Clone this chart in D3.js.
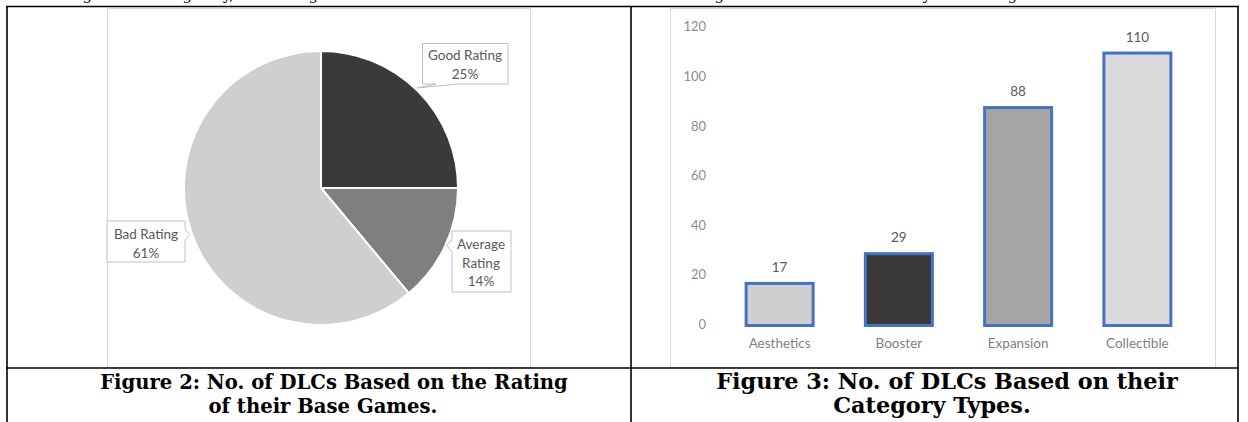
<!DOCTYPE html>
<html>
<head>
<meta charset="utf-8">
<script src="https://cdn.jsdelivr.net/npm/d3@7"></script>
<style>
  body { margin: 0; background: #fff; }
  svg { display: block; }
</style>
</head>
<body>
<svg id="svg" width="1248" height="422"></svg>
<script>
// pie: counts of DLCs by rating of base game (total 244)
var ratingNames = ["Good Rating", "Average Rating", "Bad Rating"];
var ratingCounts = [61, 34, 149];
var ratingColors = ["#3b3a39", "#7f7f7f", "#d0cece"];

// bars: counts of DLCs by category
var categories = ["Aesthetics", "Booster", "Expansion", "Collectible"];
var categoryCounts = [17, 29, 88, 110];
var categoryColors = ["#d0cece", "#3a3838", "#a5a5a5", "#dbdbdb"];
var yTicks = [0, 20, 40, 60, 80, 100, 120];

var caption2 = ["Figure 2: No. of DLCs Based on the Rating", "of their Base Games."];
var caption3 = ["Figure 3: No. of DLCs Based on their", "Category Types."];

// tail of the paragraph above the table (only the descenders show)
var topWords = [
  {t: "having", x: 92}, {t: "rating", x: 192}, {t: "by,", x: 234}, {t: "being", x: 318},
  {t: "rating", x: 724}, {t: "by", x: 931}, {t: "big", x: 1017}
];

var svg = d3.select("#svg");
var labelFont = "Lato, 'Open Sans', sans-serif";

// ---- paragraph remains ----
svg.append("g").selectAll("text").data(topWords).enter().append("text")
  .attr("x", function(d){ return d.x; })
  .attr("y", 0)
  .attr("text-anchor", "end")
  .style("font-family", "'DejaVu Serif', serif")
  .style("font-size", "15px")
  .attr("fill", "#000")
  .text(function(d){ return d.t; });

// ---- chart frames ----
svg.append("rect").attr("x", 107.5).attr("y", 8.5).attr("width", 423).attr("height", 359)
  .attr("fill", "#fff").attr("stroke", "#d9d9d9");
svg.append("rect").attr("x", 670.5).attr("y", 8.5).attr("width", 545).attr("height", 359)
  .attr("fill", "#fff").attr("stroke", "#d9d9d9");

// ---- pie ----
var total = d3.sum(ratingCounts);
var pct = d3.format(".0%");
var pieData = d3.pie().sort(null)(ratingCounts);
var arc = d3.arc().innerRadius(0).outerRadius(137);
var pieG = svg.append("g").attr("transform", "translate(321,188)");
pieG.selectAll("path").data(pieData).enter().append("path")
  .attr("d", arc)
  .attr("fill", function(d, i){ return ratingColors[i]; })
  .attr("stroke", "#fff")
  .attr("stroke-width", 2)
  .attr("stroke-linejoin", "round");

// callout boxes (shape drawn around each data label)
var callouts = [
  {name: ratingNames[0], lines: ["Good Rating"], cx: 465, y0: 55,
   path: "M422.5,43.5H508V84H458L417,88L436,84H422.5Z"},
  {name: ratingNames[1], lines: ["Average", "Rating"], cx: 481, y0: 244,
   path: "M452,231H511V292H452V252L446.5,245L452,240Z"},
  {name: ratingNames[2], lines: ["Bad Rating"], cx: 146, y0: 234,
   path: "M107,221H185V229L189.5,234.5L185,240V262H107Z"}
];
var cg = svg.append("g").selectAll("g").data(callouts).enter().append("g");
cg.append("path").attr("d", function(d){ return d.path; })
  .attr("fill", "#fff").attr("stroke", "#bfbfbf").attr("stroke-width", 1);
cg.each(function(d, i){
  var g = d3.select(this);
  var lines = d.lines.concat([pct(ratingCounts[i] / total)]);
  lines.forEach(function(l, k){
    g.append("text")
      .attr("x", d.cx).attr("y", d.y0 + k * 18.5)
      .attr("text-anchor", "middle").attr("dominant-baseline", "central")
      .style("font-family", labelFont).style("font-size", "13.5px")
      .attr("fill", "#595959").text(l);
  });
});

// ---- bars ----
var x = d3.scaleBand().domain(categories).range([720, 1197]).paddingInner(0.413).paddingOuter(0.2065);
var y = d3.scaleLinear().domain([0, 120]).range([324, 26.8]);

var yAxis = svg.append("g").attr("transform", "translate(706,0)")
  .call(d3.axisLeft(y).tickValues(yTicks).tickSize(0).tickPadding(0));
yAxis.select(".domain").remove();
yAxis.selectAll("text").style("font-family", labelFont).style("font-size", "13px")
  .attr("fill", "#8c8c8c");

var xAxis = svg.append("g").attr("transform", "translate(0,338)")
  .call(d3.axisBottom(x).tickSize(0).tickPadding(0));
xAxis.select(".domain").remove();
xAxis.selectAll("text").style("font-family", labelFont).style("font-size", "13.5px")
  .attr("fill", "#7f7f7f");

var bars = svg.append("g").selectAll("g").data(categories).enter().append("g");
bars.append("rect")
  .attr("x", function(d){ return x(d) + 1.5; })
  .attr("y", function(d, i){ return y(categoryCounts[i]) + 1.5; })
  .attr("width", x.bandwidth() - 3)
  .attr("height", function(d, i){ return y(0) - y(categoryCounts[i]); })
  .attr("fill", function(d, i){ return categoryColors[i]; })
  .attr("stroke", "#4472c4").attr("stroke-width", 3);
bars.append("text")
  .attr("x", function(d){ return x(d) + x.bandwidth() / 2; })
  .attr("y", function(d, i){ return y(categoryCounts[i]) - 15; })
  .attr("text-anchor", "middle").attr("dominant-baseline", "central")
  .style("font-family", labelFont).style("font-size", "13.5px")
  .attr("fill", "#595959")
  .text(function(d, i){ return categoryCounts[i]; });

// ---- table borders ----
var border = svg.append("g").attr("stroke", "#000").attr("stroke-width", 1.6);
border.append("line").attr("x1", 6).attr("x2", 1239).attr("y1", 6.5).attr("y2", 6.5);
border.append("line").attr("x1", 6).attr("x2", 1239).attr("y1", 368).attr("y2", 368);
[7, 631, 1238].forEach(function(xx){
  border.append("line").attr("x1", xx).attr("x2", xx).attr("y1", 6).attr("y2", 422);
});

// ---- captions ----
function caption(lines, c1, c2, targetWidth){
  var t1 = svg.append("text").attr("x", c1).attr("y", 389).attr("text-anchor", "middle")
    .style("font-family", "'DejaVu Serif', Georgia, serif").style("font-weight", "bold")
    .style("font-size", "18px").attr("fill", "#000").text(lines[0]);
  var fs = 18 * targetWidth / t1.node().getComputedTextLength();
  t1.style("font-size", fs + "px");
  svg.append("text").attr("x", c2).attr("y", 413).attr("text-anchor", "middle")
    .style("font-family", "'DejaVu Serif', Georgia, serif").style("font-weight", "bold")
    .style("font-size", fs + "px").attr("fill", "#000").text(lines[1]);
}
caption(caption2, 334, 323, 468);
caption(caption3, 947, 932, 462);
</script>
</body>
</html>
